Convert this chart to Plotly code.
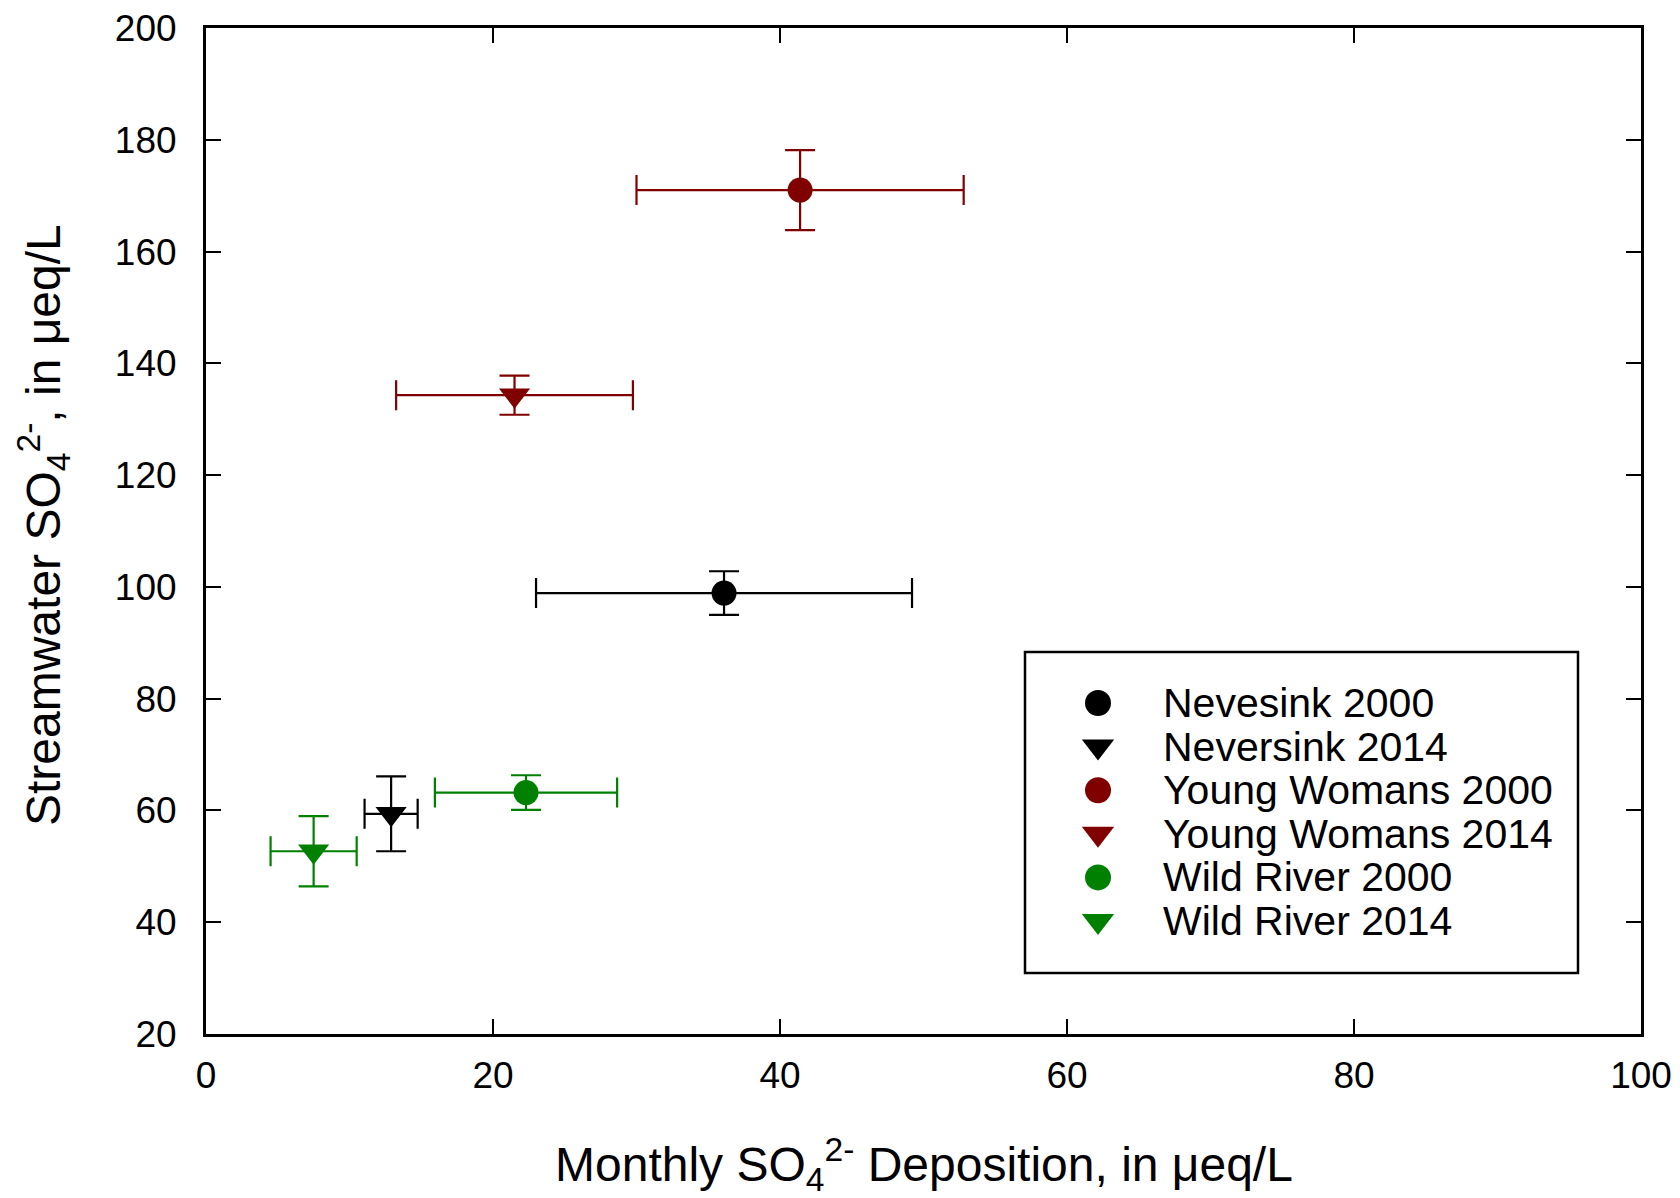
import plotly.graph_objects as go

# ---- data ----
series_names = ["Nevesink 2000", "Neversink 2014", "Young Womans 2000",
                "Young Womans 2014", "Wild River 2000", "Wild River 2014"]
deposition = [36.1, 12.9, 41.4, 21.5, 22.3, 7.5]
deposition_err = [13.1, 1.85, 11.4, 8.25, 6.35, 3.0]
streamwater = [98.9, 59.4, 171.0, 134.3, 63.2, 52.7]
streamwater_err = [3.9, 6.7, 7.15, 3.5, 3.1, 6.3]
x_ticks = [0, 20, 40, 60, 80, 100]
y_ticks = [20, 40, 60, 80, 100, 120, 140, 160, 180, 200]

# ---- styles ----
colors = ["#000000", "#000000", "#800000", "#800000", "#008000", "#008000"]
symbols = ["circle", "triangle-down", "circle", "triangle-down", "circle", "triangle-down"]
FONT = "Liberation Sans, Arial, sans-serif"

# page has an 8px body margin; figure is sized so it ends at the window edge
PAGE_OFF = 8
W, H = 1680 - PAGE_OFF, 1198 - PAGE_OFF
# plot area in page pixels
PL, PR, PT, PB = 206, 1641, 28, 1034
L, R, T, B = PL - PAGE_OFF, PR - PAGE_OFF, PT - PAGE_OFF, PB - PAGE_OFF

fig = go.Figure()
for name, x, xe, y, ye, c, s in zip(series_names, deposition, deposition_err,
                                     streamwater, streamwater_err, colors, symbols):
    fig.add_trace(go.Scatter(
        x=[x], y=[y], mode="markers", name=name, showlegend=False,
        marker=dict(symbol=s, size=25 if s == "circle" else 27, color=c,
                    line=dict(width=0)),
        error_x=dict(type="data", array=[xe], color=c, thickness=2.2, width=15),
        error_y=dict(type="data", array=[ye], color=c, thickness=2.2, width=15),
    ))

# ---- manual legend on a pixel-space overlay axis (page pixel coords) ----
LEG_X0, LEG_X1, LEG_Y0, LEG_Y1 = 1025, 1578, 652, 973
MARK_X, TEXT_X = 1098, 1161
ROW0, ROW_H = 703, 43.6
for i, (name, c, s) in enumerate(zip(series_names, colors, symbols)):
    yy = ROW0 + i * ROW_H
    fig.add_trace(go.Scatter(
        x=[MARK_X], y=[yy], xaxis="x2", yaxis="y2", mode="markers",
        showlegend=False, hoverinfo="skip",
        marker=dict(symbol=s, size=26 if s == "circle" else 28, color=c, line=dict(width=0)),
    ))
    fig.add_annotation(x=TEXT_X, y=yy, xref="x2", yref="y2", text=name,
                       showarrow=False, xanchor="left", yanchor="middle",
                       font=dict(family=FONT, size=41, color="black"))
fig.add_shape(type="rect", xref="x2", yref="y2", x0=LEG_X0, x1=LEG_X1,
              y0=LEG_Y0, y1=LEG_Y1, line=dict(color="black", width=2.5),
              fillcolor="rgba(0,0,0,0)")

axis_common = dict(showgrid=False, zeroline=False, showline=True, linecolor="black",
                   linewidth=3, mirror="ticks", ticks="inside", ticklen=15,
                   tickwidth=2, tickcolor="black", ticklabeloverflow="allow",
                   tickfont=dict(family=FONT, size=37, color="black"))

fig.update_layout(
    width=W, height=H,
    margin=dict(l=L, r=W - R, t=T, b=H - B, autoexpand=False),
    paper_bgcolor="white", plot_bgcolor="white",
    showlegend=False,
    xaxis=dict(range=[0, 100], tickvals=x_ticks, ticklabelstandoff=7, **axis_common),
    yaxis=dict(range=[20, 200], tickvals=y_ticks, ticklabelstandoff=19, **axis_common),
    xaxis2=dict(overlaying="x", range=[PL, PR], visible=False, domain=[0, 1]),
    yaxis2=dict(overlaying="y", range=[PB, PT], visible=False, domain=[0, 1]),
)

fig.add_annotation(x=0.5, y=0, xref="paper", yref="paper", yshift=-130,
                   text="Monthly SO<sub>4</sub><sup>2-</sup> Deposition, in \u03bceq/L",
                   showarrow=False, xanchor="center", yanchor="middle",
                   font=dict(family=FONT, size=48, color="black"))
fig.add_annotation(x=0, y=0.5, xref="paper", yref="paper", xshift=-163, yshift=6,
                   text="Streamwater SO<sub>4</sub><sup>2-</sup>, in \u03bceq/L",
                   textangle=-90, showarrow=False, xanchor="center", yanchor="middle",
                   font=dict(family=FONT, size=48, color="black"))

fig.write_html("out.html")
